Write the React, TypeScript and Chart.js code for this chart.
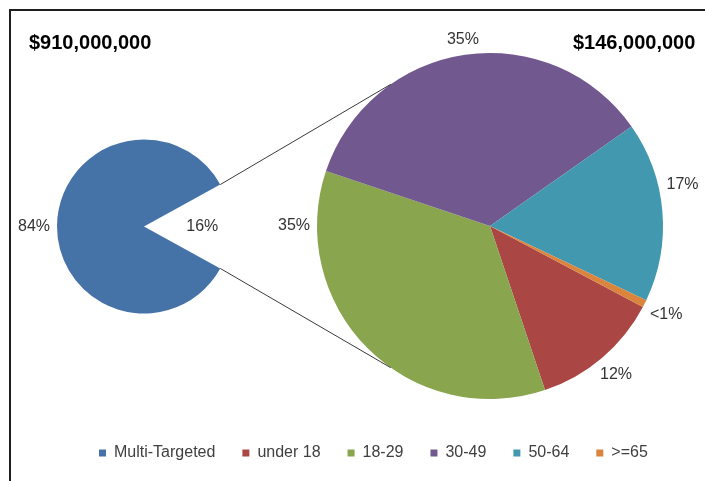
import React, { useEffect, useRef } from "react";
import { Chart, registerables } from "chart.js";

Chart.register(...registerables);

// ---- data ----
const mainLabels = ["Multi-Targeted", "Other"];
const mainValues = [84, 16];
const mainTotalLabel = "$910,000,000";

const splitLabels = ["under 18", "18-29", "30-49", "50-64", ">=65"];
const splitValues = [12.1, 35.3, 35.1, 16.8, 0.7];
const splitTotalLabel = "$146,000,000";

// ---- styles ----
const mainColors = ["#4572A7", "rgba(0,0,0,0)"];
const splitColors = ["#AA4643", "#89A54E", "#71588F", "#4198AF", "#DB843D"];
const FONT = "'Liberation Sans', Arial, Helvetica, sans-serif";
const TEXT = "#333333";

const SMALL_LEFT = 0;
const SMALL_W = 288;
const BIG_LEFT = 72;
const BIG_W = 836;
const H = 481;

function pctText(v: number, total: number) {
  const p = (v / total) * 100;
  return p < 1 ? "<1%" : Math.round(p) + "%";
}

function makeLabelPlugin(cfg: {
  size: number;
  gap: number;
  angles?: Record<number, number>;
  inside?: number[];
}) {
  return {
    id: "pctLabels",
    afterDatasetsDraw(chart: any) {
      const ctx = chart.ctx as CanvasRenderingContext2D;
      const meta = chart.getDatasetMeta(0);
      const values = chart.data.datasets[0].data as number[];
      const total = values.reduce((a, b) => a + b, 0);
      ctx.save();
      ctx.font = `${cfg.size}px ${FONT}`;
      ctx.fillStyle = TEXT;
      ctx.textAlign = "center";
      ctx.textBaseline = "middle";
      meta.data.forEach((el: any, i: number) => {
        const p = el.getProps(["x", "y", "startAngle", "endAngle", "outerRadius"], true);
        const text = pctText(values[i], total);
        let a = (p.startAngle + p.endAngle) / 2;
        if (cfg.angles && cfg.angles[i] !== undefined) a = ((cfg.angles[i] - 90) * Math.PI) / 180;
        const c = Math.cos(a);
        const s = Math.sin(a);
        let d: number;
        if (cfg.inside && cfg.inside.includes(i)) {
          d = p.outerRadius * 0.67;
        } else {
          const hw = ctx.measureText(text).width / 2;
          const hh = cfg.size * 0.36;
          d = p.outerRadius + cfg.gap + Math.abs(c) * hw + Math.abs(s) * hh;
        }
        ctx.fillText(text, p.x + c * d, p.y + s * d);
      });
      ctx.restore();
    },
  };
}

function makeTitlePlugin(text: string, x: number, y: number) {
  return {
    id: "pieTitle",
    afterDraw(chart: any) {
      const ctx = chart.ctx as CanvasRenderingContext2D;
      ctx.save();
      ctx.font = `bold 20px ${FONT}`;
      ctx.fillStyle = "#000000";
      ctx.textAlign = "left";
      ctx.textBaseline = "alphabetic";
      ctx.fillText(text, x, y);
      ctx.restore();
    },
  };
}

function makeConnectorPlugin(getSmall: () => Chart | null, offsetX: number, angleDeg: number) {
  return {
    id: "connectors",
    afterDatasetsDraw(chart: any) {
      const small = getSmall();
      if (!small) return;
      const gapEl: any = small.getDatasetMeta(0).data[1];
      const bigEl: any = chart.getDatasetMeta(0).data[0];
      if (!gapEl || !bigEl) return;
      const g = gapEl.getProps(["x", "y", "startAngle", "endAngle", "outerRadius"], true);
      const b = bigEl.getProps(["x", "y", "outerRadius"], true);
      const sx = g.x - offsetX;
      const sy = g.y;
      const A = (angleDeg * Math.PI) / 180;
      const pairs: [number, number][] = [
        [g.startAngle, -A],
        [g.endAngle, A],
      ];
      const ctx = chart.ctx as CanvasRenderingContext2D;
      ctx.save();
      ctx.strokeStyle = "#3a3a3a";
      ctx.lineWidth = 1;
      pairs.forEach(([a1, a2]) => {
        ctx.beginPath();
        ctx.moveTo(sx + g.outerRadius * Math.cos(a1), sy + g.outerRadius * Math.sin(a1));
        ctx.lineTo(b.x + b.outerRadius * Math.cos(a2), b.y + b.outerRadius * Math.sin(a2));
        ctx.stroke();
      });
      ctx.restore();
    },
  };
}

export default function App() {
  const smallRef = useRef<HTMLCanvasElement>(null);
  const bigRef = useRef<HTMLCanvasElement>(null);

  useEffect(() => {
    if (!smallRef.current || !bigRef.current) return;
    const mainSum = mainValues.reduce((a, b) => a + b, 0);
    const smallRotation = 90 + (mainValues[1] / mainSum) * 180;

    const small = new Chart(smallRef.current, {
      type: "pie",
      data: {
        labels: mainLabels,
        datasets: [
          {
            data: mainValues,
            backgroundColor: mainColors,
            borderWidth: 0,
            hoverOffset: 0,
          },
        ],
      },
      options: {
        responsive: false,
        animation: false,
        events: [],
        rotation: smallRotation,
        radius: 87,
        layout: { padding: { top: 0, bottom: 28, left: 0, right: 0 } },
        plugins: {
          legend: { display: false },
          tooltip: { enabled: false },
        },
      },
      plugins: [
        makeLabelPlugin({ size: 16, gap: 7, inside: [1] }),
        makeTitlePlugin(mainTotalLabel, 29 - SMALL_LEFT, 49),
      ],
    });

    const big = new Chart(bigRef.current, {
      type: "pie",
      data: {
        labels: splitLabels,
        datasets: [
          {
            data: splitValues,
            backgroundColor: splitColors,
            borderWidth: 0,
            hoverOffset: 0,
          },
        ],
      },
      options: {
        responsive: false,
        animation: false,
        events: [],
        rotation: 117.9,
        radius: 173,
        layout: { padding: { top: 34, bottom: 10, left: 0, right: 0 } },
        plugins: {
          tooltip: { enabled: false },
          legend: {
            display: true,
            position: "bottom",
            align: "start",
            labels: {
              boxWidth: 7,
              boxHeight: 7,
              padding: 27,
              color: "#404040",
              font: { family: FONT, size: 16 },
              generateLabels: (chart: any) => {
                const base = (Chart as any).overrides.doughnut.plugins.legend.labels.generateLabels(chart);
                return [
                  {
                    text: mainLabels[0],
                    fillStyle: mainColors[0],
                    strokeStyle: mainColors[0],
                    fontColor: "#404040",
                    lineWidth: 0,
                    hidden: false,
                    index: -1,
                  },
                  ...base,
                ];
              },
            },
          },
        },
      },
      plugins: [
        makeConnectorPlugin(() => small, BIG_LEFT - SMALL_LEFT, 125),
        makeLabelPlugin({ size: 16, gap: 7, angles: { 1: 270, 3: 78 } }),
        makeTitlePlugin(splitTotalLabel, 573 - BIG_LEFT, 49),
      ],
    });

    return () => {
      big.destroy();
      small.destroy();
    };
  }, []);

  return (
    <div
      style={{
        position: "fixed",
        left: 0,
        top: 0,
        width: 705,
        height: 481,
        overflow: "hidden",
        background: "#ffffff",
      }}
    >
      <div
        style={{
          position: "absolute",
          left: 9,
          top: 9,
          width: 800,
          height: 560,
          border: "2px solid #1e1e1e",
          background: "#ffffff",
        }}
      />
      <canvas
        ref={bigRef}
        width={BIG_W}
        height={H}
        style={{ position: "absolute", left: BIG_LEFT, top: 0, width: BIG_W, height: H, display: "block" }}
      />
      <canvas
        ref={smallRef}
        width={SMALL_W}
        height={H}
        style={{ position: "absolute", left: SMALL_LEFT, top: 0, width: SMALL_W, height: H, display: "block" }}
      />
    </div>
  );
}
